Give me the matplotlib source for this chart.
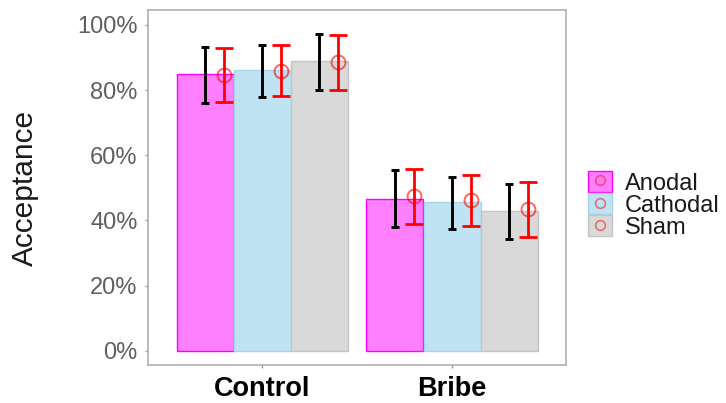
import numpy as np
import matplotlib.pyplot as plt
from matplotlib.patches import Patch
from matplotlib.lines import Line2D
from matplotlib.ticker import PercentFormatter

plt.rcParams["font.family"] = ["Liberation Sans", "DejaVu Sans"]

conditions = ["Control", "Bribe"]
groups = ["Anodal", "Cathodal", "Sham"]

# bar heights (%)
bar_anodal = [84.8, 46.7]
bar_cathodal = [86.1, 45.7]
bar_sham = [88.9, 42.9]

# black error bars (lower, upper) in %
blk_low_anodal = [76.1, 38.1]
blk_high_anodal = [93.3, 55.4]
blk_low_cathodal = [78.0, 37.4]
blk_high_cathodal = [93.9, 53.3]
blk_low_sham = [80.0, 34.2]
blk_high_sham = [97.2, 51.3]

# red points with error bars in %
red_mean_anodal = [84.7, 47.5]
red_low_anodal = [76.5, 39.0]
red_high_anodal = [93.0, 55.7]
red_mean_cathodal = [85.9, 46.2]
red_low_cathodal = [78.1, 38.4]
red_high_cathodal = [93.8, 53.8]
red_mean_sham = [88.6, 43.4]
red_low_sham = [80.1, 34.9]
red_high_sham = [96.9, 51.7]

yticks = [0, 20, 40, 60, 80, 100]

face_colors = ["#ff80ff", "#bfe3f2", "#d9d9d9"]
edge_colors = ["#ff00ff", "#a6d4ea", "#c4c4c4"]


def main():
    bars = [bar_anodal, bar_cathodal, bar_sham]
    blk_low = [blk_low_anodal, blk_low_cathodal, blk_low_sham]
    blk_high = [blk_high_anodal, blk_high_cathodal, blk_high_sham]
    red_mean = [red_mean_anodal, red_mean_cathodal, red_mean_sham]
    red_low = [red_low_anodal, red_low_cathodal, red_low_sham]
    red_high = [red_high_anodal, red_high_cathodal, red_high_sham]

    fig = plt.figure(figsize=(7.26, 4.03), dpi=100)
    ax = fig.add_axes([148 / 726, 38 / 403, 418 / 726, 355 / 403])

    x = np.arange(1, len(conditions) + 1)
    width = 0.3
    offsets = [-width, 0, width]

    for i in range(len(groups)):
        xpos = x + offsets[i]
        ax.bar(xpos, bars[i], width=width, color=face_colors[i],
               edgecolor=edge_colors[i], linewidth=1.0, zorder=1)

        lo = np.array(blk_low[i])
        hi = np.array(blk_high[i])
        mid = (lo + hi) / 2
        ax.errorbar(xpos, mid, yerr=[mid - lo, hi - mid], fmt="none",
                    ecolor="black", elinewidth=2.1, capsize=2.6,
                    capthick=2.1, zorder=3)

        rm = np.array(red_mean[i])
        ax.errorbar(xpos + 0.1, rm,
                    yerr=[rm - np.array(red_low[i]), np.array(red_high[i]) - rm],
                    fmt="none", ecolor="#ff0000", elinewidth=2.0,
                    capsize=6.8, capthick=2.0, zorder=3)
        ax.plot(xpos + 0.1, rm, "o", ms=10, mfc="none", mec="#ff0000",
                mew=1.4, alpha=0.6, zorder=4)

    ax.set_xlim(0.4, 2.6)
    ax.set_ylim(-4.4, 104.6)
    ax.set_xticks(x)
    ax.set_xticklabels(conditions, fontsize=19.5, fontweight="bold", color="black")
    ax.set_yticks(yticks)
    ax.yaxis.set_major_formatter(PercentFormatter(decimals=0))
    ax.tick_params(axis="y", labelsize=17, labelcolor="#5f5f5f",
                   color="#999999", length=2.5, width=1, pad=5)
    ax.tick_params(axis="x", color="#999999", length=2.5, width=1, pad=5.5)

    ax.set_ylabel("Acceptance", fontsize=21.5, color="#1a1a1a")
    ax.yaxis.set_label_coords(-0.262, 0.5)

    for sp in ax.spines.values():
        sp.set_color("#b0b0b0")
        sp.set_linewidth(1.2)

    handles = []
    for i in range(len(groups)):
        patch = Patch(facecolor=face_colors[i], edgecolor=edge_colors[i], linewidth=1.0)
        dot = Line2D([], [], marker="o", ms=7, mfc="none", mec="#ff0000",
                     mew=1.2, alpha=0.5, linestyle="none")
        handles.append((patch, dot))

    fig.legend(handles, groups, loc="center left",
               bbox_to_anchor=(588 / 726, (403 - 205) / 403),
               frameon=False, fontsize=17, borderpad=0, borderaxespad=0,
               handlelength=1.0, handleheight=0.95, handletextpad=0.55,
               labelspacing=-0.05, labelcolor="#1a1a1a")

    fig.savefig("out.png", dpi=100)


if __name__ == "__main__":
    main()
